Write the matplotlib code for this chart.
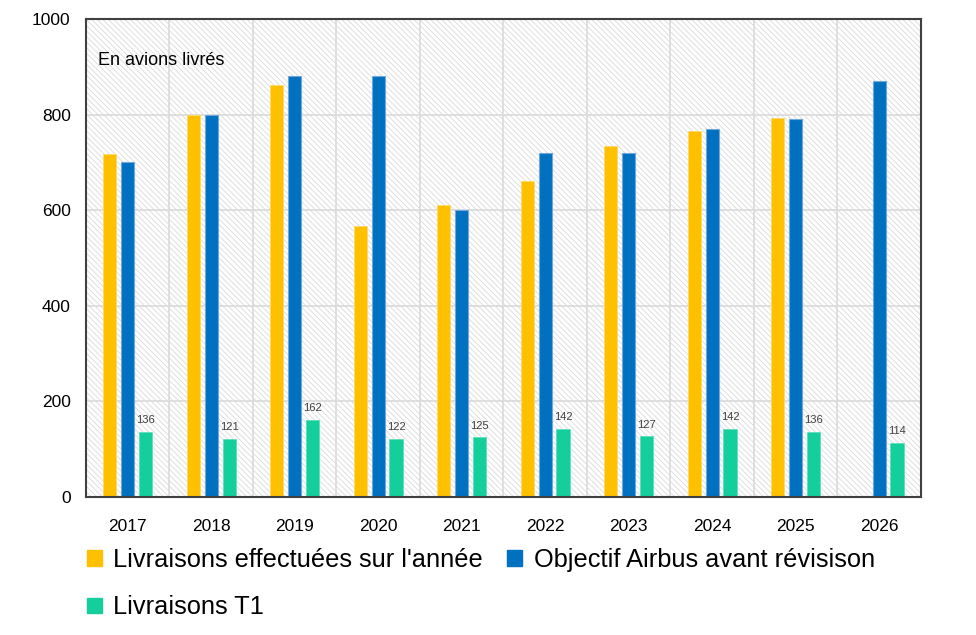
import matplotlib
matplotlib.use("Agg")
import matplotlib.pyplot as plt
from matplotlib.patches import Rectangle, Patch
import numpy as np

plt.rcParams['font.family'] = ['Liberation Sans', 'DejaVu Sans']
plt.rcParams['hatch.linewidth'] = 0.6

# données
years = ['2017', '2018', '2019', '2020', '2021', '2022', '2023', '2024', '2025', '2026']
livraisons = [718, 800, 863, 566, 611, 661, 735, 766, 793, np.nan]
objectif = [700, 800, 880, 880, 600, 720, 720, 770, 790, 870]
livraisons_t1 = [136, 121, 162, 122, 125, 142, 127, 142, 136, 114]

c_yellow = '#FFC000'
c_blue = '#0070C0'
c_green = '#14CF9C'

fig = plt.figure(figsize=(9.76, 6.35), dpi=100)
ax = fig.add_axes([0.0881, 0.2173, 0.8555, 0.7527])

# fond hachuré
bg = Rectangle((0, 0), 1, 1, transform=ax.transAxes, facecolor='white',
               edgecolor='#dadada', linewidth=0, hatch='\\\\\\\\\\\\', zorder=0)
ax.add_patch(bg)
ax.patch.set_visible(False)

x = np.arange(len(years))
w = 0.16
off = 0.215
ax.bar(x - off, livraisons, w, color=c_yellow, edgecolor='#ffd966', linewidth=0.6, zorder=3)
ax.bar(x, objectif, w, color=c_blue, edgecolor='#6fa8dc', linewidth=0.8, zorder=3)
ax.bar(x + off, livraisons_t1, w, color=c_green, edgecolor='#5fe0bd', linewidth=0.6, zorder=3)

for xi, v in zip(x, livraisons_t1):
    ax.text(xi + off, v + 14, str(v), ha='center', va='bottom', fontsize=8, color='#404040', zorder=4)

ax.set_xlim(-0.5, len(years) - 0.5)
ax.set_ylim(0, 1000)
ax.set_yticks([0, 200, 400, 600, 800, 1000])
ax.set_xticks(x)
ax.set_xticklabels(years)
ax.set_xticks(np.arange(len(years) + 1) - 0.5, minor=True)
ax.tick_params(axis='x', which='both', length=0, pad=16, labelsize=12.5)
ax.tick_params(axis='y', length=0, pad=11, labelsize=12.5)
ax.grid(axis='y', which='major', color='#dcdcdc', linewidth=1.3, zorder=1)
ax.grid(axis='x', which='minor', color='#dcdcdc', linewidth=1.3, zorder=1)
ax.grid(axis='x', which='major', visible=False)
ax.set_axisbelow(True)

for s in ax.spines.values():
    s.set_color('#404040')
    s.set_linewidth(1.5)
    s.set_zorder(5)

ax.text(0.0144, 0.914, 'En avions livrés', transform=ax.transAxes, fontsize=13,
        ha='left', va='center', color='black', zorder=4)

handles = [Patch(color=c_yellow, label="Livraisons effectuées sur l'année"),
           Patch(color=c_green, label='Livraisons T1'),
           Patch(color=c_blue, label='Objectif Airbus avant révisison')]
fig.legend(handles=handles, ncol=2, loc='upper left', bbox_to_anchor=(0.079, 0.153),
           frameon=False, fontsize=18.3, handlelength=0.58, handleheight=0.58,
           handletextpad=0.45, columnspacing=0.95, labelspacing=0.92, borderaxespad=0)

fig.savefig('out.png', dpi=100)
